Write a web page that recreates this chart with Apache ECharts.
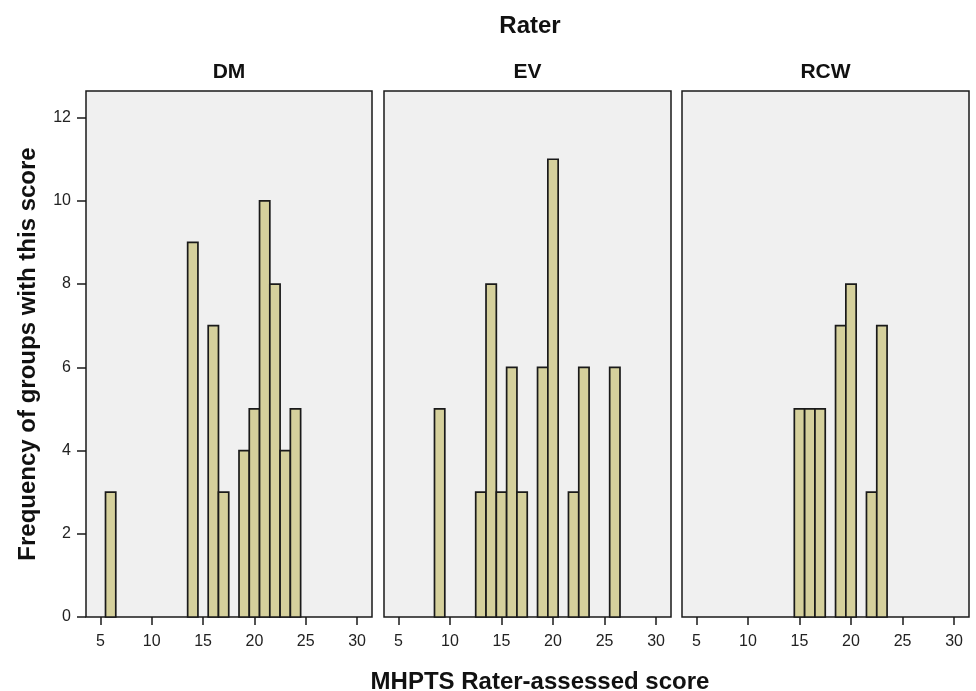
<!DOCTYPE html>
<html><head><meta charset="utf-8">
<script src="https://cdn.jsdelivr.net/npm/echarts@6/dist/echarts.min.js"></script>
<style>html,body{margin:0;padding:0;background:#fff}#c{width:976px;height:691px}</style></head>
<body><div id="c"></div>
<script>
const raters = ['DM', 'EV', 'RCW'];
const dmScores = [6, 14, 16, 17, 19, 20, 21, 22, 23, 24];
const dmFreq = [3, 9, 7, 3, 4, 5, 10, 8, 4, 5];
const evScores = [9, 13, 14, 15, 16, 17, 19, 20, 22, 23, 26];
const evFreq = [5, 3, 8, 3, 6, 3, 6, 11, 3, 6, 6];
const rcwScores = [15, 16, 17, 19, 20, 22, 23];
const rcwFreq = [5, 5, 5, 7, 8, 3, 7];
const xTicks = [5, 10, 15, 20, 25, 30];
const yTicks = [0, 2, 4, 6, 8, 10, 12];
const xTitle = 'MHPTS Rater-assessed score';
const yTitle = 'Frequency of groups with this score';
const panelTitle = 'Rater';

const scoresList = [dmScores, evScores, rcwScores];
const freqList = [dmFreq, evFreq, rcwFreq];

const FONT = '"Liberation Sans", Arial, sans-serif';
const lefts = [86, 384, 682];
const widths = [286, 287, 287];
const TOP = 91, HEIGHT = 526;

function renderItem(params, api) {
  const x = api.value(0), y = api.value(1);
  const p0 = api.coord([x - 0.5, y]);
  const p1 = api.coord([x + 0.5, 0]);
  return {
    type: 'rect',
    shape: { x: p0[0], y: p0[1], width: p1[0] - p0[0], height: p1[1] - p0[1] },
    style: { fill: '#d5d09c', stroke: '#1a1a1a', lineWidth: 1.7 }
  };
}

const grids = [], xAxes = [], yAxes = [], series = [], graphics = [];
raters.forEach((r, i) => {
  grids.push({ left: lefts[i], top: TOP, width: widths[i], height: HEIGHT, show: true,
    backgroundColor: '#f0f0f0', borderColor: '#1a1a1a', borderWidth: 1.5 });
  xAxes.push({ type: 'value', gridIndex: i, min: 3.6, max: 31.45,
    axisLine: { show: false },
    axisTick: { show: true, customValues: xTicks, length: 8, lineStyle: { color: '#1a1a1a', width: 1.5 } },
    axisLabel: { customValues: xTicks, fontSize: 16, color: '#222', fontFamily: FONT, margin: 17 },
    splitLine: { show: false } });
  yAxes.push({ type: 'value', gridIndex: i, min: 0, max: 12.64, show: i === 0,
    axisLine: { show: false },
    axisTick: { show: true, customValues: yTicks, length: 9, lineStyle: { color: '#1a1a1a', width: 1.5 } },
    axisLabel: { customValues: yTicks, fontSize: 16, color: '#222', fontFamily: FONT, margin: 15 },
    splitLine: { show: false },
    name: i === 0 ? yTitle : '', nameLocation: 'middle', nameGap: 46,
    nameTextStyle: { fontSize: 24, fontWeight: 'bold', color: '#111', fontFamily: FONT } });
  series.push({ type: 'custom', xAxisIndex: i, yAxisIndex: i, renderItem,
    encode: { x: 0, y: 1 },
    data: scoresList[i].map((s, k) => [s, freqList[i][k]]) });
  graphics.push({ type: 'text', x: lefts[i] + widths[i] / 2, y: 72,
    style: { text: r, font: 'bold 21px ' + FONT, fill: '#111', textAlign: 'center', textVerticalAlign: 'middle' } });
});
graphics.push({ type: 'text', x: 530, y: 26,
  style: { text: panelTitle, font: 'bold 24px ' + FONT, fill: '#111', textAlign: 'center', textVerticalAlign: 'middle' } });
graphics.push({ type: 'text', x: 540, y: 682,
  style: { text: xTitle, font: 'bold 24px ' + FONT, fill: '#111', textAlign: 'center', textVerticalAlign: 'middle' } });

const chart = echarts.init(document.getElementById('c'), null, { renderer: 'canvas' });
chart.setOption({ animation: false, grid: grids, xAxis: xAxes, yAxis: yAxes, series, graphic: graphics });
</script></body></html>
